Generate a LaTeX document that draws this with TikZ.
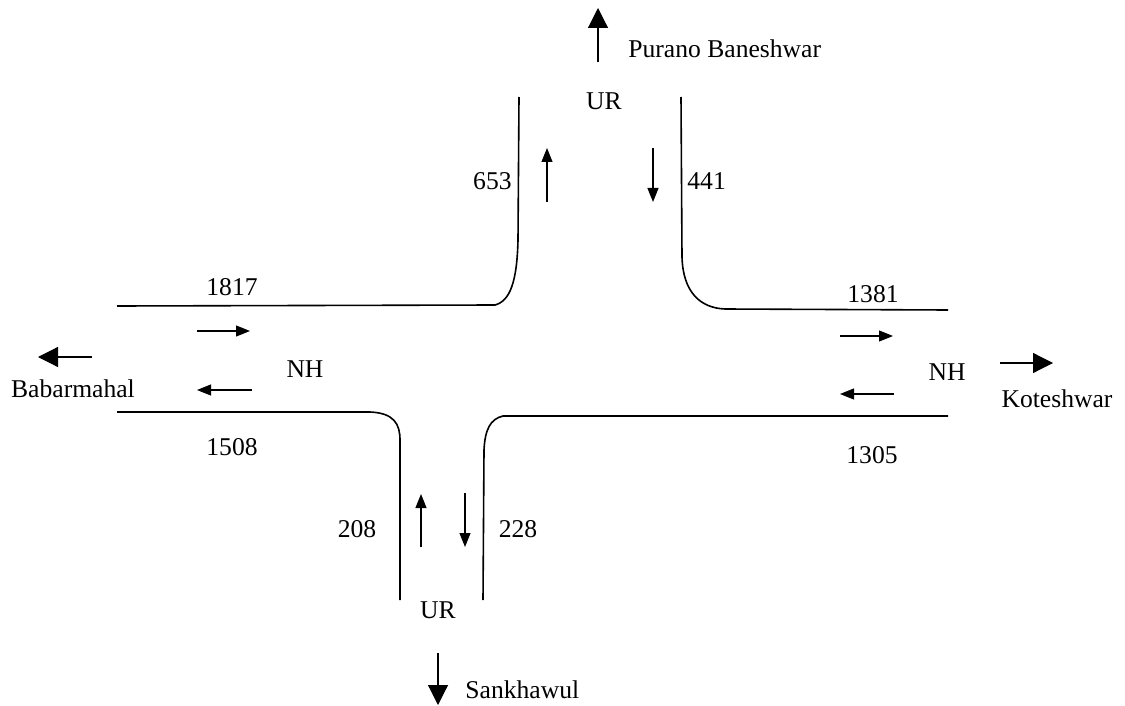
\documentclass[tikz,border=0pt]{standalone}
\usepackage{fontspec}
\setmainfont{Liberation Serif}
\usepackage{tikz}
\usetikzlibrary{arrows.meta}

\begin{document}
\begin{tikzpicture}[x=0.5pt,y=-0.5pt,
  road/.style={line width=0.8pt},
  flow/.style={line width=0.55pt,-{Triangle[length=7pt,width=5.5pt]}},
  dirarrow/.style={line width=0.6pt,-{Triangle[length=10pt,width=10pt]}},
  lbl/.style={inner sep=0pt,anchor=base,font=\fontsize{12.8}{15}\selectfont}]
\useasboundingbox (0,0) rectangle (1125,706);

% road edges
\draw[road] (519,97) -- (518,240) .. controls (517,282) and (510,301) .. (495,305) -- (117,306);
\draw[road] (681,97) -- (682,257) .. controls (683,292) and (700,308) .. (725,309) -- (948,310);
\draw[road] (117,412) -- (370,412) .. controls (394,413) and (400,424) .. (400,440) -- (400,600);
\draw[road] (483,600) -- (484,450) .. controls (485,430) and (490,419) .. (503,416) -- (948,416);

% traffic directions
\draw[flow] (547,202) -- (547,148);
\draw[flow] (653,148) -- (653,202);
\draw[flow] (421,547) -- (421,494);
\draw[flow] (465,493) -- (465,547);
\draw[flow] (197,331) -- (250,331);
\draw[flow] (252,390) -- (197,390);
\draw[flow] (840,336) -- (893,336);
\draw[flow] (894,394) -- (840,394);

% destinations
\draw[dirarrow] (598,62) -- (598,8);
\draw[dirarrow] (438,653) -- (438,705);
\draw[dirarrow] (92,357) -- (38,357);
\draw[dirarrow] (1000,363) -- (1053,363);

\node[lbl,anchor=base west] (pb) at (628,58) {Purano Baneshwar};
\node[lbl,anchor=base west] (sk) at (465,698) {Sankhawul};
\node[lbl] (bb) at (73,397) {Babarmahal};
\node[lbl] (kt) at (1057,407) {Koteshwar};

\node[lbl] (urn) at (604,110) {UR};
\node[lbl] (urs) at (438,618) {UR};
\node[lbl] (nhw) at (305,377) {NH};
\node[lbl] (nhe) at (947,380) {NH};

% volumes
\node[lbl,anchor=base east] (vn1) at (512,190) {653};
\node[lbl,anchor=base west] (vn2) at (687,190) {441};
\node[lbl] (vw1) at (232,295) {1817};
\node[lbl] (vw2) at (232,455) {1508};
\node[lbl] (ve1) at (873,302) {1381};
\node[lbl] (ve2) at (872,463) {1305};
\node[lbl] (vs1) at (357,537) {208};
\node[lbl] (vs2) at (518,537) {228};

\end{tikzpicture}
\end{document}
